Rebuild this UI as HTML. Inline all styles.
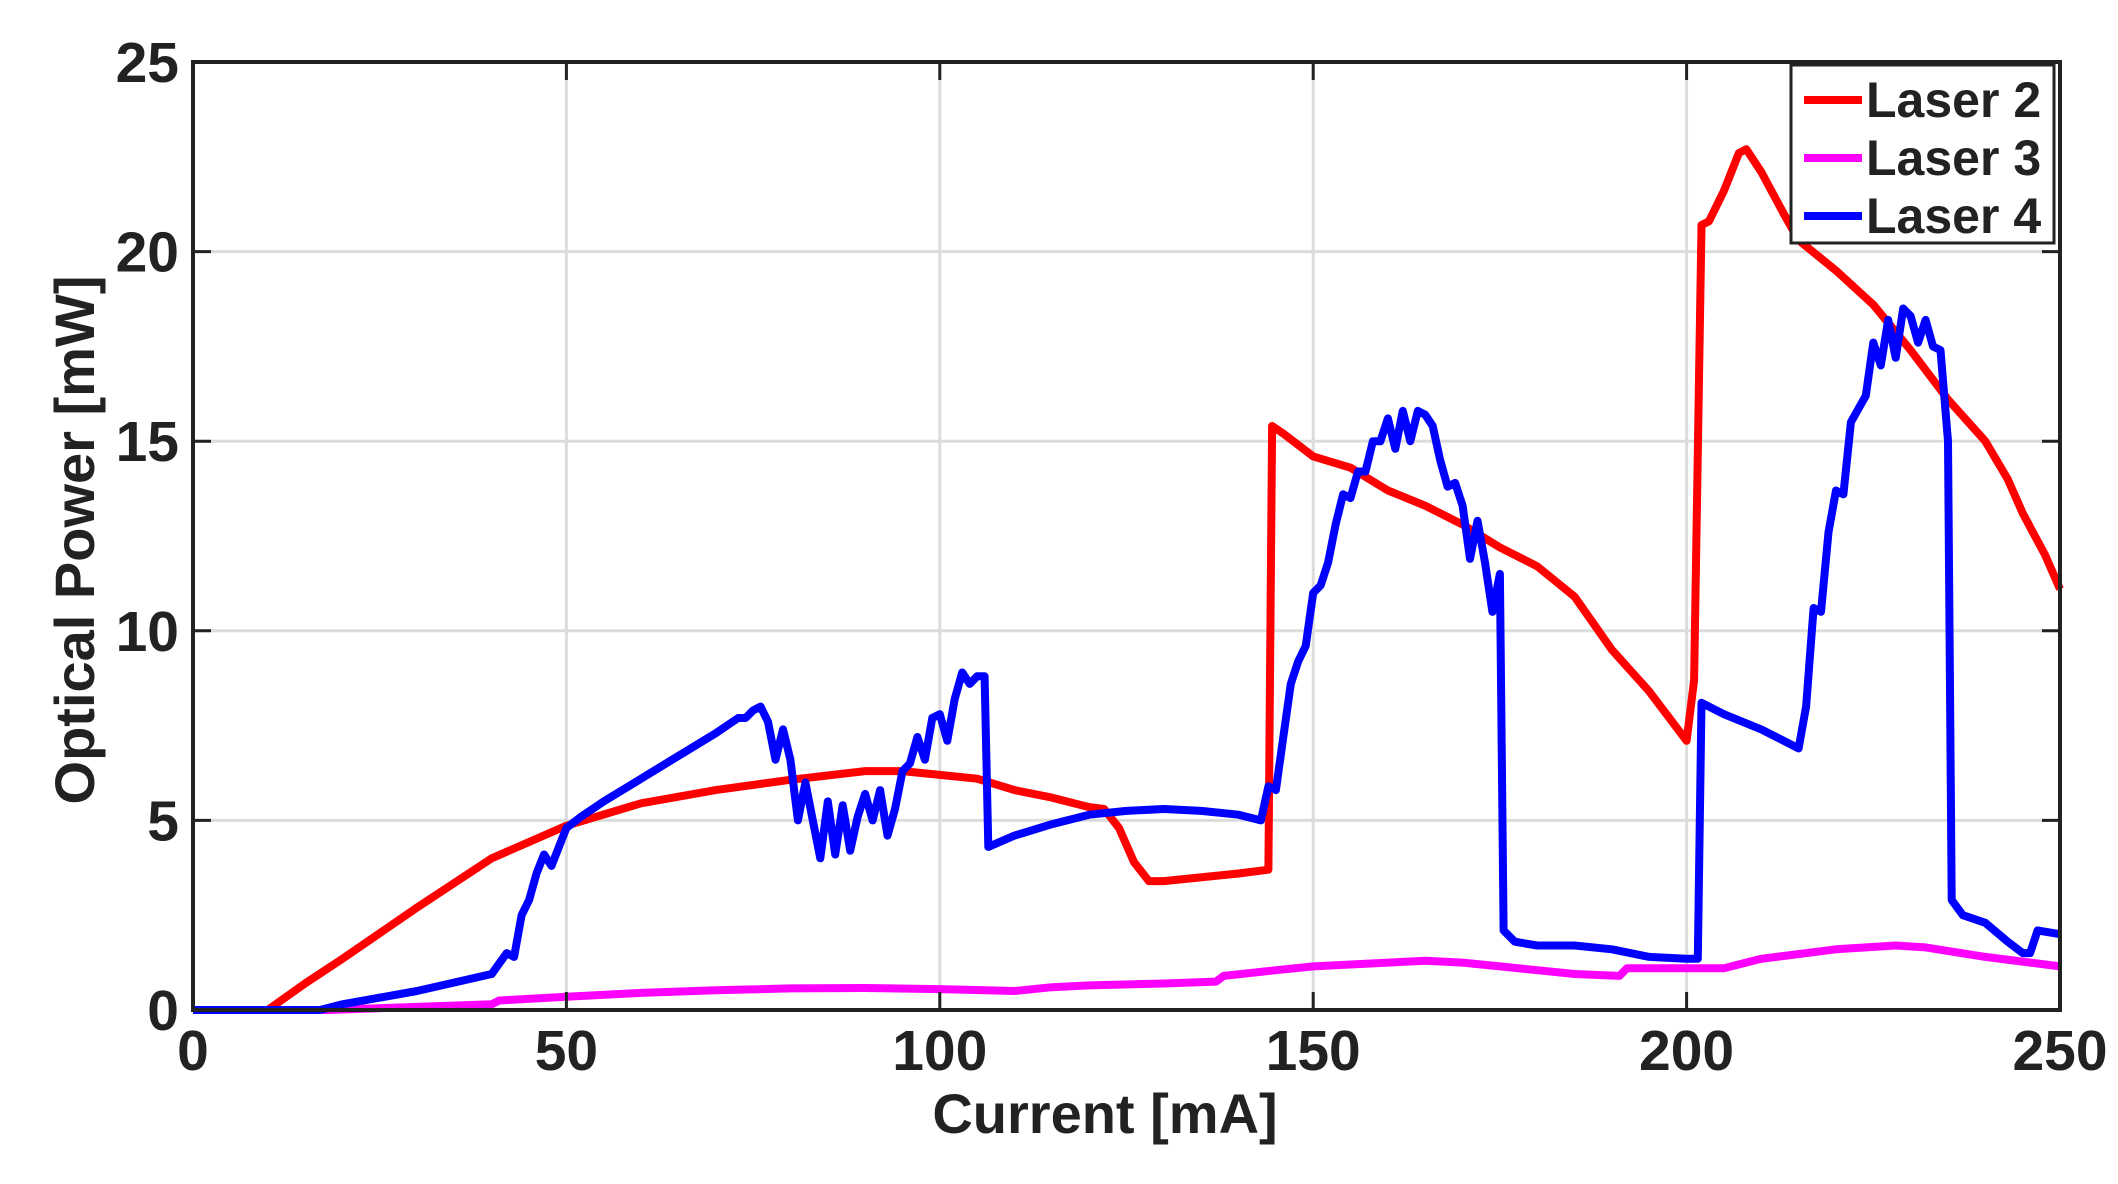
<!DOCTYPE html>
<html><head><meta charset="utf-8"><style>
body{margin:0;background:#fff}
svg{display:block;font-family:"Liberation Sans",Arial,sans-serif;font-weight:bold}
</style></head><body>
<svg id="chart" width="2118" height="1184" viewBox="0 0 2118 1184" xmlns="http://www.w3.org/2000/svg">
<g id="grid"></g>
<g id="series"></g>
<rect x="193" y="62" width="1867" height="948" fill="none" stroke="#222" stroke-width="4"/>
<g id="ticks"></g>
<text x="1105" y="1133" font-size="56" text-anchor="middle" fill="#222">Current [mA]</text>
<text transform="translate(94,540) rotate(-90)" font-size="56" text-anchor="middle" fill="#222">Optical Power [mW]</text>
<g id="legend">
<rect x="1791" y="65" width="263" height="178" fill="#fff" stroke="#222" stroke-width="3"/>
</g>
</svg>
<script>
const xTicks=[0,50,100,150,200,250];
const yTicks=[0,5,10,15,20,25];
const seriesNames=["Laser 2","Laser 3","Laser 4"];
const seriesColors=["#ff0000","#ff00ff","#0000ff"];
const laser2X=[0,10,15,20,30,40,50,60,70,80,90,95,100,105,110,115,120,122,124,126,128,130,140,144,144.5,146,150,155,160,165,170,175,180,185,190,195,200,201,202,203,205,207,208,210,213,215,220,225,230,235,240,243,245,248,250];
const laser2Y=[0,0,0.7,1.35,2.7,4.0,4.86,5.45,5.8,6.07,6.3,6.3,6.2,6.1,5.8,5.6,5.35,5.3,4.8,3.9,3.4,3.4,3.6,3.7,15.4,15.2,14.6,14.3,13.7,13.3,12.8,12.2,11.7,10.9,9.5,8.4,7.1,8.7,20.7,20.8,21.6,22.6,22.7,22.1,21.0,20.3,19.5,18.6,17.4,16.1,15.0,14.0,13.1,12.0,11.1];
const laser3X=[0,18,40,41,50,60,70,80,90,100,110,115,120,130,137,138,145,150,160,165,170,175,180,185,191,192,200,205,210,220,228,232,240,250];
const laser3Y=[0,0,0.15,0.25,0.35,0.45,0.52,0.57,0.58,0.55,0.5,0.6,0.65,0.7,0.75,0.9,1.05,1.15,1.25,1.3,1.25,1.15,1.05,0.95,0.9,1.1,1.1,1.1,1.35,1.6,1.7,1.65,1.4,1.15];
const laser4X=[0,17,20,30,40,42,43,44,45,46,47,48,49,50,52,55,60,65,70,73,74,75,76,77,78,79,80,81,82,83,84,85,86,87,88,89,90,91,92,93,94,95,96,97,98,99,100,101,102,103,104,105,106,106.5,110,115,120,125,130,135,140,143,144,145,146,147,148,149,150,151,152,153,154,155,156,157,158,159,160,161,162,163,164,165,166,167,168,169,170,171,172,173,174,175,175.5,177,180,185,190,195,200,201.5,202,205,210,215,216,217,218,219,220,221,222,224,225,226,227,228,229,230,231,232,233,234,235,235.5,237,240,243,245,246,247,250];
const laser4Y=[0,0,0.15,0.5,0.95,1.5,1.4,2.5,2.9,3.6,4.1,3.8,4.3,4.8,5.1,5.5,6.1,6.7,7.3,7.7,7.7,7.9,8.0,7.6,6.6,7.4,6.6,5.0,6.0,5.0,4.0,5.5,4.1,5.4,4.2,5.1,5.7,5.0,5.8,4.6,5.3,6.3,6.5,7.2,6.6,7.7,7.8,7.1,8.2,8.9,8.6,8.8,8.8,4.3,4.6,4.9,5.15,5.25,5.3,5.25,5.15,5.0,5.9,5.8,7.2,8.6,9.2,9.6,11.0,11.2,11.8,12.8,13.6,13.5,14.2,14.2,15.0,15.0,15.6,14.8,15.8,15.0,15.8,15.7,15.4,14.5,13.8,13.9,13.3,11.9,12.9,11.8,10.5,11.5,2.1,1.8,1.7,1.7,1.6,1.4,1.35,1.35,8.1,7.8,7.4,6.9,8.0,10.6,10.5,12.6,13.7,13.6,15.5,16.2,17.6,17.0,18.2,17.2,18.5,18.3,17.6,18.2,17.5,17.4,15.0,2.9,2.5,2.3,1.8,1.5,1.5,2.1,2.0];

const L=193,R=2060,T=62,B=1010;
const sx=v=>L+(v-0)/(250-0)*(R-L);
const sy=v=>B-(v-0)/(25-0)*(B-T);
const NS="http://www.w3.org/2000/svg";
function mk(tag,attrs,parent){const e=document.createElementNS(NS,tag);for(const k in attrs)e.setAttribute(k,attrs[k]);parent.appendChild(e);return e;}
const grid=document.getElementById('grid'),ticks=document.getElementById('ticks');
xTicks.forEach(t=>{
  const g=mk('line',{x1:sx(t),x2:sx(t),y1:T,y2:B,stroke:'#dcdcdc','stroke-width':3},grid);
  
  
  const tk=mk('line',{x1:sx(t),x2:sx(t),y1:B,y2:B-18,stroke:'#222','stroke-width':3},ticks);
  
  
  const tk2=mk('line',{x1:sx(t),x2:sx(t),y1:T,y2:T+18,stroke:'#222','stroke-width':3},ticks);
  
  
  const lb=mk('text',{x:sx(t),y:B+60,'font-size':57,'text-anchor':'middle',fill:'#222'},ticks);
  lb.textContent=t;
  
  
});
yTicks.forEach(t=>{
  const g=mk('line',{x1:L,x2:R,y1:sy(t),y2:sy(t),stroke:'#dcdcdc','stroke-width':3},grid);
  
  
  const tk=mk('line',{x1:L,x2:L+18,y1:sy(t),y2:sy(t),stroke:'#222','stroke-width':3},ticks);
  
  
  const tk2=mk('line',{x1:R,x2:R-18,y1:sy(t),y2:sy(t),stroke:'#222','stroke-width':3},ticks);
  
  
  const lb=mk('text',{x:L-14,y:sy(t)+20,'font-size':57,'text-anchor':'end',fill:'#222'},ticks);
  lb.textContent=t;
  
  
});
const series=document.getElementById('series');
const data=[[laser2X,laser2Y],[laser3X,laser3Y],[laser4X,laser4Y]];
const order=[1,0,2];
order.forEach(i=>{
  const [xs,ys]=data[i];
  const pts=xs.map((x,j)=>sx(x).toFixed(1)+','+sy(ys[j]).toFixed(1)).join(' ');
  const p=mk('polyline',{points:pts,fill:'none',stroke:seriesColors[i],'stroke-width':8,'stroke-linejoin':'round'},series);
  
  
});
const legend=document.getElementById('legend');
seriesNames.forEach((n,i)=>{
  const y=100+i*58;
  const ln=mk('line',{x1:1804,x2:1862,y1:y,y2:y,stroke:seriesColors[i],'stroke-width':8},legend);
  
  
  const tx=mk('text',{x:1866,y:y+17,'font-size':50,fill:'#222'},legend);
  tx.textContent=n;
  
  
});
</script>
</body></html>
